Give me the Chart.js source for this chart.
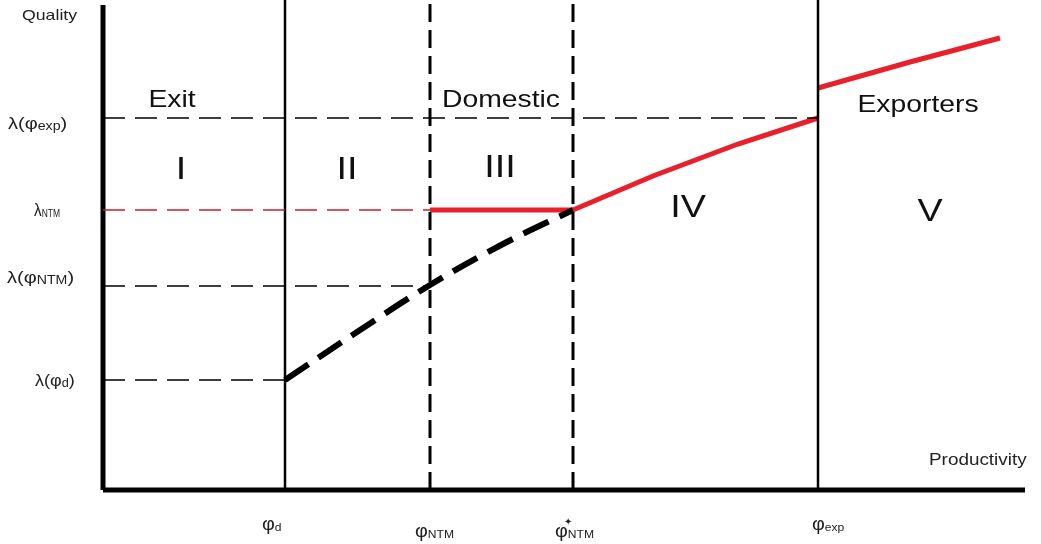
<!DOCTYPE html>
<html lang="en">
<head>
  <meta charset="UTF-8">
  <title>Quality vs Productivity</title>
  <script src="https://cdn.jsdelivr.net/npm/chart.js"></script>
  <style>
    html, body { margin: 0; padding: 0; background: #fff; }
    .chart-wrapper { position: relative; width: 1041px; height: 544px; }
  </style>
</head>
<body>
  <div class="chart-wrapper"><canvas id="diagram"></canvas></div>
  <script>
    // cut-off productivities (x) and quality levels (y)
    const xCuts = { d: 182, ntm: 327, star: 470, exp: 715, end: 897 };
    const yLevels = { d: 110, phiNtm: 204, ntm: 280, exp: 372 };
    const xMax = 938, yMax = 490;

    // curves
    const blackCurveX = [182, 254, 327, 400, 470];
    const blackCurveY = [110, 158, 205, 246, 280];
    const redFlatX = [327, 470];
    const redFlatY = [280, 280];
    const redMidX = [470, 550, 635, 715];
    const redMidY = [280, 314, 346, 372];
    const redTopX = [715, 807, 897];
    const redTopY = [402, 428, 452];

    // tick labels
    const yTickVals = [yLevels.exp, yLevels.ntm, yLevels.phiNtm, yLevels.d];
    const yTickMain = ['λ(φ', 'λ', 'λ(φ', 'λ(φ'];
    const yTickSub = ['exp', 'NTM', 'NTM', 'd'];
    const yTickTail = [')', '', ')', ')'];
    const xTickVals = [xCuts.d, xCuts.ntm, xCuts.star, xCuts.exp];
    const xTickSub = ['d', 'NTM', 'NTM', 'exp'];

    // region names
    const regionText = ['Exit', 'Domestic', 'Exporters', 'I', 'II', 'III', 'IV', 'V'];
    const regionX = [69, 398, 815, 78, 244, 397, 585, 827];
    const regionY = [390, 390, 385, 320, 320, 322, 282, 278];
    const regionSize = [24, 24, 24, 32, 32, 32, 32, 32];

    const pts = (xs, ys) => xs.map((x, i) => ({ x, y: ys[i] }));
    const RED = '#e8202b';
    const line = (data, color, width, dash, extra) => Object.assign({
      data, borderColor: color, borderWidth: width, borderDash: dash || [],
      pointRadius: 0, fill: false, clip: false, tension: 0
    }, extra || {});

    const datasets = [
      // guide lines
      line(pts([0, xCuts.exp], [yLevels.exp, yLevels.exp]), '#000', 1.4, [22, 10]),
      line(pts([0, xCuts.ntm], [yLevels.ntm, yLevels.ntm]), '#c41f2e', 1.4, [22, 10]),
      line(pts([0, xCuts.ntm], [yLevels.phiNtm, yLevels.phiNtm]), '#000', 1.4, [22, 10]),
      line(pts([0, xCuts.d], [yLevels.d, yLevels.d]), '#000', 1.4, [22, 10]),
      // vertical cut-offs
      line(pts([xCuts.d, xCuts.d], [0, yMax]), '#000', 2.5),
      line(pts([xCuts.ntm, xCuts.ntm], [0, yMax]), '#000', 3, [18, 8]),
      line(pts([xCuts.star, xCuts.star], [0, yMax]), '#000', 3, [18, 8]),
      line(pts([xCuts.exp, xCuts.exp], [0, yMax]), '#000', 2.5),
      // curves
      line(pts(blackCurveX, blackCurveY), '#000', 6, [28, 12], { tension: 0.4 }),
      line(pts(redFlatX, redFlatY), RED, 5),
      line(pts(redMidX, redMidY), RED, 5, { tension: 0.4, borderJoinStyle: 'round' }),
      line(pts(redTopX, redTopY), RED, 5, { tension: 0.4, borderCapStyle: 'round', borderJoinStyle: 'round' }),
      // axes
      line(pts([0, 0], [0, 485]), '#000', 5),
      line(pts([0, 922], [0, 0]), '#000', 5)
    ];

    const FONT = '"Liberation Sans", Arial, sans-serif';
    const STRETCH = 1.18;

    // text with a subscript, drawn from its left edge, stretched horizontally
    function subText(ctx, parts, x, y, size, subSize, stretch) {
      ctx.save();
      ctx.translate(x, y);
      ctx.scale(stretch, 1);
      ctx.textAlign = 'left';
      ctx.textBaseline = 'alphabetic';
      ctx.font = size + 'px ' + FONT;
      ctx.fillText(parts[0], 0, 0);
      const w0 = ctx.measureText(parts[0]).width;
      ctx.font = subSize + 'px ' + FONT;
      ctx.fillText(parts[1], w0, 1);
      const w1 = ctx.measureText(parts[1]).width;
      if (parts[2]) {
        ctx.font = size + 'px ' + FONT;
        ctx.fillText(parts[2], w0 + w1, 0);
      }
      ctx.restore();
    }

    function wideText(ctx, t, x, y, size) {
      ctx.save();
      ctx.translate(x, y);
      ctx.scale(STRETCH, 1);
      ctx.font = size + 'px ' + FONT;
      ctx.fillText(t, 0, 0);
      ctx.restore();
    }

    const labelPlugin = {
      id: 'labels',
      afterDatasetsDraw(chart) {
        const ctx = chart.ctx;
        const xs = chart.scales.x, ys = chart.scales.y;
        ctx.save();
        ctx.fillStyle = '#222';
        // axis titles
        ctx.textAlign = 'left';
        ctx.textBaseline = 'middle';
        wideText(ctx, 'Quality', 22, 16, 15);
        wideText(ctx, 'Productivity', 929, 461, 16);
        // y tick labels
        const yLeft = [8, 34, 7, 35];
        const yOff = [5, 0, -9, 0];
        const ySize = [17, 18, 17, 17];
        const ySub = [12, 10, 12, 12];
        const yStr = [1.18, 0.85, 1.18, 1.06];
        yTickVals.forEach((v, i) => {
          subText(ctx, [yTickMain[i], yTickSub[i], yTickTail[i]], yLeft[i],
            ys.getPixelForValue(v) + yOff[i] + 6, ySize[i], ySub[i], yStr[i]);
        });
        // x tick labels
        const xLeft = [262, 415, 555, 812];
        const xBase = [530, 537, 537, 530];
        xTickVals.forEach((v, i) => {
          subText(ctx, ['φ', xTickSub[i], ''], xLeft[i], xBase[i], 18, 11, 1.1);
          if (i === 2) {
            ctx.font = '10px ' + FONT;
            ctx.textAlign = 'center';
            ctx.fillText('✦', xs.getPixelForValue(v) - 5, xBase[i] - 15);
            ctx.textAlign = 'left';
          }
        });
        // region names
        ctx.fillStyle = '#111';
        ctx.textAlign = 'center';
        ctx.textBaseline = 'middle';
        regionText.forEach((t, i) => {
          wideText(ctx, t, xs.getPixelForValue(regionX[i]), ys.getPixelForValue(regionY[i]), regionSize[i]);
        });
        ctx.restore();
      }
    };

    new Chart(document.getElementById('diagram'), {
      type: 'line',
      data: { datasets },
      options: {
        responsive: true,
        maintainAspectRatio: false,
        animation: false,
        events: [],
        layout: { padding: { left: 103, right: 0, top: 0, bottom: 54 } },
        plugins: { legend: { display: false }, tooltip: { enabled: false } },
        scales: {
          x: { type: 'linear', min: 0, max: xMax, display: false },
          y: { type: 'linear', min: 0, max: yMax, display: false }
        }
      },
      plugins: [labelPlugin]
    });
  </script>
</body>
</html>
